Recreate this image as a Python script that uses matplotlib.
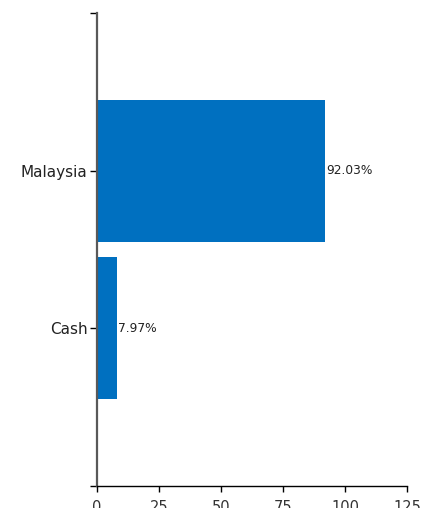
import matplotlib
matplotlib.use("Agg")
import matplotlib.pyplot as plt

categories = ["Cash", "Malaysia"]
values = [7.97, 92.03]
xticks = [0, 25, 50, 75, 100, 125]

plt.rcParams['font.family'] = ['DejaVu Sans']

fig = plt.figure(figsize=(4.21, 5.08), dpi=100)
# axes placed in figure pixels: left 97, right 407, top 13, bottom 486
ax = fig.add_axes([97/421, (508-486)/508, 310/421, 473/508])

pos = list(range(len(categories)))
ax.barh(pos, values, height=0.9, color="#0070C0")
for p, v in zip(pos, values):
    ax.text(v + 0.6, p, "%.2f%%" % v, va="center", ha="left", fontsize=8.8, color="#222222")

ax.set_xlim(0, 125)
ax.set_ylim(-1, 2)
ax.set_xticks(xticks)
ax.set_xticklabels([str(t) for t in xticks], fontsize=10.5, color="#333333")
ax.set_yticks([-1] + pos + [2])
ax.set_yticklabels([""] + categories + [""], fontsize=11, color="#222222")

ax.spines["top"].set_visible(False)
ax.spines["right"].set_visible(False)
ax.spines["left"].set_color("#595959")
ax.spines["left"].set_linewidth(1.6)
ax.spines["bottom"].set_color("black")
ax.spines["bottom"].set_linewidth(1.0)
ax.tick_params(axis="x", length=4, width=1, pad=6)
ax.tick_params(axis="y", length=5, width=1, pad=2)

fig.savefig("out.png", dpi=100)
